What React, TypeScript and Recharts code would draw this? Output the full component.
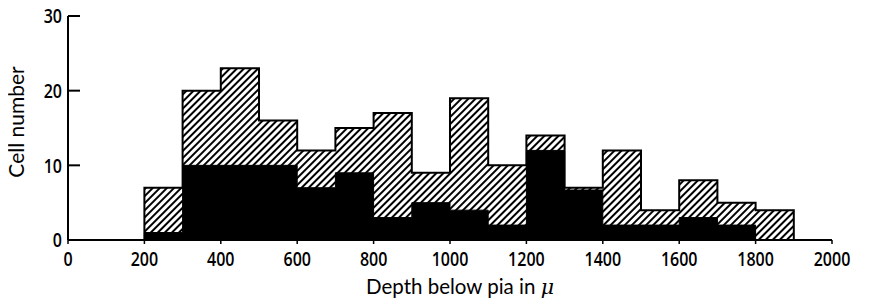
import React from "react";
import { ComposedChart, Area, XAxis, YAxis, Label } from "recharts";

// bins are 100 µ wide, starting at these depths
const binStarts = [200, 300, 400, 500, 600, 700, 800, 900, 1000, 1100, 1200, 1300, 1400, 1500, 1600, 1700, 1800];
const totalCells = [7, 20, 23, 16, 12, 15, 17, 9, 19, 10, 14, 7, 12, 4, 8, 5, 4];
const blackCells = [1, 10, 10, 10, 7, 9, 3, 5, 4, 2, 12, 6.7, 2, 2, 3, 2, 0];
const binWidth = 100;

const xTicks = [0, 200, 400, 600, 800, 1000, 1200, 1400, 1600, 1800, 2000];
const yTicks = [0, 10, 20, 30];

const first = binStarts[0];
const last = binStarts[binStarts.length - 1] + binWidth;

// step outline: drop to zero at both ends of the histogram
const rows = [
  { depth: first, total: 0, black: 0 },
  ...binStarts.map((d, i) => ({ depth: d, total: totalCells[i], black: blackCells[i] })),
  { depth: last, total: 0, black: 0 },
];

const tickFont = "'Open Sans', sans-serif";
const labelFont = "Lato, 'Open Sans', sans-serif";

function YTick(props: any) {
  const { x, y, payload } = props;
  return (
    <g>
      <line x1={x + 6} x2={x + 18} y1={y} y2={y} stroke="#000" strokeWidth={2} />
      <text
        transform={`translate(${x},${y}) scale(0.8,1)`}
        dy="0.36em"
        textAnchor="end"
        fontFamily={tickFont}
        fontWeight={600}
        fontSize={20}
        fill="#000"
      >
        {payload.value}
      </text>
    </g>
  );
}

function XTick(props: any) {
  const { x, y, payload } = props;
  return (
    <text
      transform={`translate(${x},${y}) scale(0.8,1)`}
      dy="0.75em"
      textAnchor="middle"
      fontFamily={tickFont}
      fontWeight={600}
      fontSize={20}
      fill="#000"
    >
      {payload.value}
    </text>
  );
}

function DepthLabel(props: any) {
  const { viewBox } = props;
  const cx = viewBox.x + viewBox.width / 2 + 10;
  const ty = viewBox.y + viewBox.height + 24;
  return (
    <text x={cx} y={ty} textAnchor="middle" fontFamily={labelFont} fontSize={20.5} fill="#000">
      Depth below pia in <tspan fontStyle="italic" fontFamily="'DejaVu Serif', serif">μ</tspan>
    </text>
  );
}

export default function App() {
  return (
    <div style={{ margin: -8, width: 869, height: 306 }}>
      <ComposedChart
        width={869}
        height={306}
        data={rows}
        margin={{ top: 16, right: 37, left: 8, bottom: 36 }}
      >
        <defs>
          <pattern id="hatch" patternUnits="userSpaceOnUse" width={5} height={5} patternTransform="rotate(45)">
            <rect width={5} height={5} fill="#fff" />
            <line x1={1} y1={0} x2={1} y2={5} stroke="#000" strokeWidth={2} />
          </pattern>
        </defs>
        <XAxis
          type="number"
          dataKey="depth"
          domain={[0, 2000]}
          ticks={xTicks}
          axisLine={{ stroke: "#000", strokeWidth: 2 }}
          tickLine={{ stroke: "#000", strokeWidth: 1.5 }}
          tickSize={4}
          tickMargin={7}
          height={30}
          tick={<XTick />}
        >
          <Label content={<DepthLabel />} />
        </XAxis>
        <YAxis
          type="number"
          domain={[0, 30]}
          ticks={yTicks}
          width={60}
          axisLine={{ stroke: "#000", strokeWidth: 2 }}
          tickLine={false}
          tickSize={0}
          tickMargin={6}
          tick={<YTick />}
        >
          <Label
            value="Cell number"
            angle={-90}
            position="center"
            dx={-21}
            dy={-6}
            style={{ fill: "#000", fontSize: 21, fontFamily: labelFont, textAnchor: "middle" }}
          />
        </YAxis>
        <Area
          type="stepAfter"
          dataKey="total"
          stroke="#000"
          strokeWidth={2}
          fill="url(#hatch)"
          fillOpacity={1}
          isAnimationActive={false}
          activeDot={false}
        />
        <Area
          type="stepAfter"
          dataKey="black"
          stroke="#000"
          strokeWidth={1}
          fill="#000"
          fillOpacity={1}
          isAnimationActive={false}
          activeDot={false}
        />
      </ComposedChart>
    </div>
  );
}
